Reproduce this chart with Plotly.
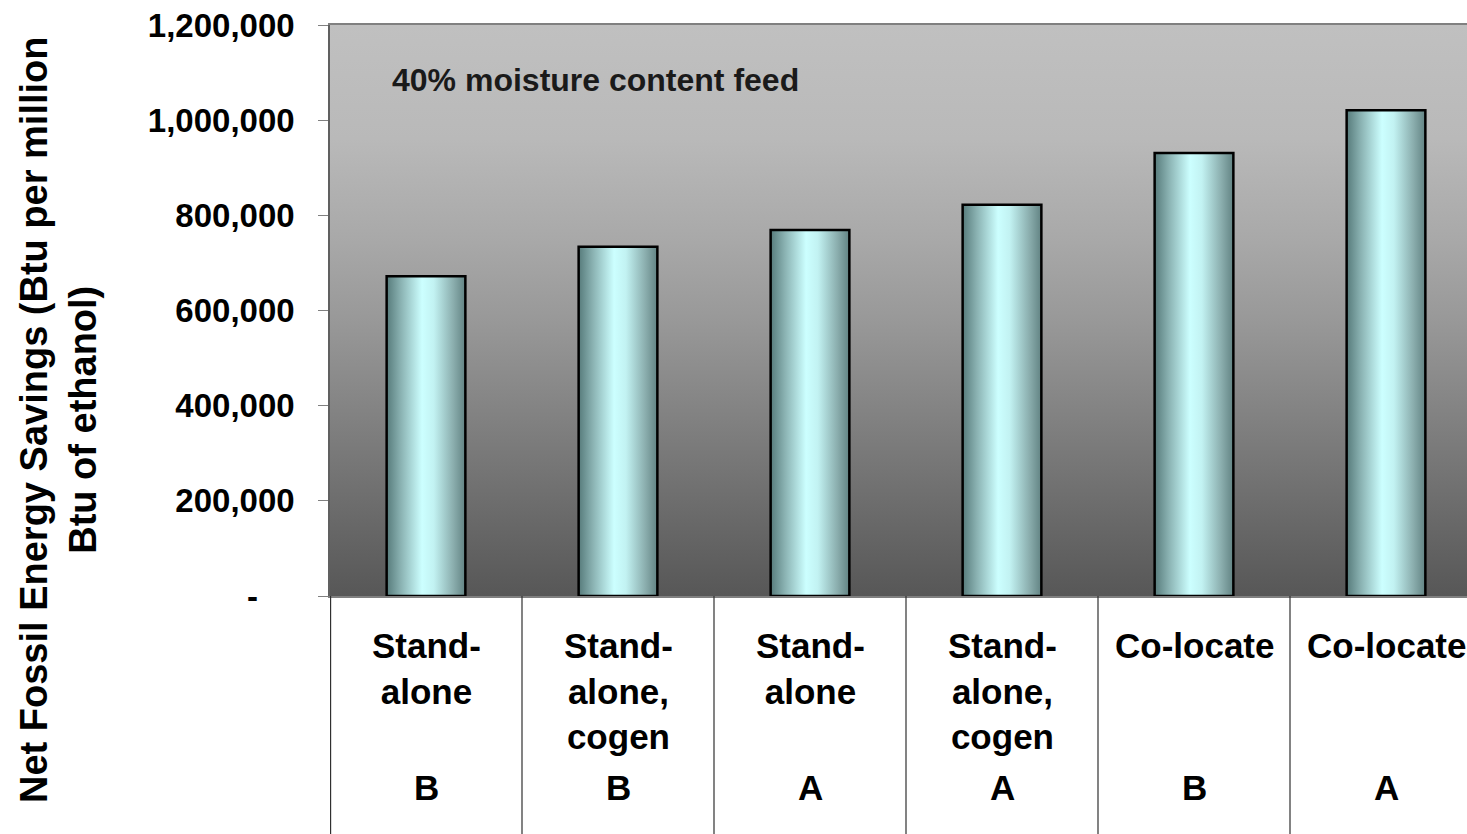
import plotly.graph_objects as go

# ---- data ----
categories = ["Stand-<br>alone", "Stand-<br>alone,<br>cogen", "Stand-<br>alone",
              "Stand-<br>alone,<br>cogen", "Co-locate", "Co-locate"]
plants = ["B", "B", "A", "A", "B", "A"]
savings = [672000, 734000, 769000, 822000, 931000, 1021000]
y_tickvals = [0, 200000, 400000, 600000, 800000, 1000000, 1200000]
y_ticktext = ["-\u00a0\u00a0\u00a0\u00a0", "200,000", "400,000", "600,000",
              "800,000", "1,000,000", "1,200,000"]
note_text = "40% moisture content feed"
y_title = "Net Fossil Energy Savings (Btu per million<br>Btu of ethanol)"

FONT = "Liberation Sans, Arial, sans-serif"
W, H = 1467, 834
ML, MT, MB = 330, 25, 238
CAT_W = 192.0
x_max = -0.5 + (W - ML) / CAT_W
bar_w = 0.41
ymax = 1200000

fig = go.Figure()

# plot-area background with vertical gradient
fig.add_trace(go.Scatter(
    x=[-0.5, len(categories) - 0.5, len(categories) - 0.5, -0.5, -0.5],
    y=[0, 0, ymax, ymax, 0],
    mode="lines", fill="toself", line=dict(width=0, color="rgba(0,0,0,0)"),
    fillgradient=dict(type="vertical", start=0, stop=ymax,
                      colorscale=[[0, "#575757"], [0.48, "#989898"],
                                  [0.62, "#a8a8a8"], [0.8, "#b9b9b9"],
                                  [1, "#c0c0c0"]]),
    hoverinfo="skip", showlegend=False))

bar_scale = [[0, "#577b7b"], [0.18, "#8ab2b2"], [0.45, "#ccffff"],
             [0.6, "#c2f2f2"], [0.85, "#8aadad"], [1, "#628383"]]
for i, v in enumerate(savings):
    x0, x1 = i - bar_w / 2, i + bar_w / 2
    fig.add_trace(go.Scatter(
        x=[x0, x1, x1, x0, x0], y=[0, 0, v, v, 0],
        mode="lines", fill="toself",
        line=dict(color="#000000", width=2.5),
        fillgradient=dict(type="horizontal", start=x0, stop=x1, colorscale=bar_scale),
        hovertemplate="%{y:,}<extra></extra>", showlegend=False))

shapes = []
plot_h = H - MT - MB
bottom_paper = -(MB + 5) / plot_h
for i in range(len(categories)):
    xb = i - 0.5 if i > 0 else -0.497
    shapes.append(dict(type="line", xref="x", yref="paper", x0=xb, x1=xb,
                       y0=0, y1=bottom_paper, line=dict(color="#303030", width=1.2)))

annotations = []
for i, (c, p) in enumerate(zip(categories, plants)):
    annotations.append(dict(x=i, xref="x", y=(596 - 624) / plot_h, yref="paper",
                            yanchor="top", xanchor="center", text=c, showarrow=False,
                            font=dict(family=FONT, size=35, color="#000000", weight="bold")))
    annotations.append(dict(x=i, xref="x", y=(596 - 787) / plot_h, yref="paper",
                            yanchor="middle", xanchor="center", text=p, showarrow=False,
                            font=dict(family=FONT, size=35, color="#000000", weight="bold")))

annotations.append(dict(x=(390 - ML) / (W - ML), xref="paper", y=(596 - 80) / plot_h,
                        yref="paper", xanchor="left", yanchor="middle", text=note_text,
                        showarrow=False,
                        font=dict(family=FONT, size=32, color="#1a1a1a", weight="bold")))

annotations.append(dict(x=(58 - ML) / (W - ML), xref="paper", y=(596 - 420) / plot_h,
                        yref="paper", xanchor="center", yanchor="middle", text=y_title,
                        textangle=-90, showarrow=False, align="center",
                        font=dict(family=FONT, size=38, color="#000000", weight="bold")))

fig.update_layout(
    width=W, height=H,
    margin=dict(l=ML, r=0, t=MT, b=MB, pad=0),
    paper_bgcolor="#ffffff", plot_bgcolor="#8a8a8a",
    showlegend=False,
    shapes=shapes, annotations=annotations,
    xaxis=dict(range=[-0.5, x_max], showgrid=False, zeroline=False,
               showticklabels=False, ticks="", showline=True, mirror=True,
               linecolor="#808080", linewidth=1.5, fixedrange=True),
    yaxis=dict(range=[0, ymax], tickvals=y_tickvals, ticktext=y_ticktext,
               showgrid=False, zeroline=False, ticks="outside", ticklen=10,
               tickcolor="#808080", tickwidth=1.2, showline=True, linecolor="#606060",
               linewidth=1.5, ticklabelstandoff=17,
               tickfont=dict(family=FONT, size=33, color="#000000", weight="bold")),
)

fig.write_html("out.html", config={"displayModeBar": False},
               post_script="document.body.style.margin='0';document.body.style.overflow='hidden';")
